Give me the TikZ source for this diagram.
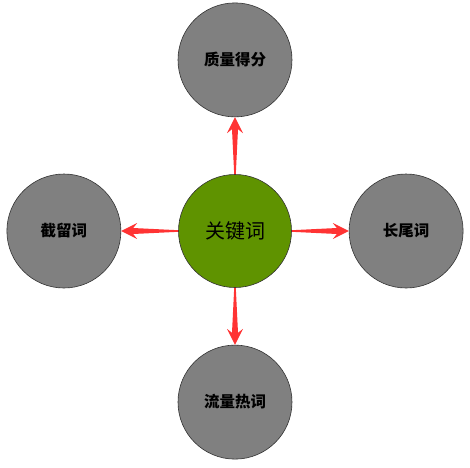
\documentclass[tikz,border=0pt]{standalone}
\usepackage{fontspec}
\newfontfamily\cjk{Noto Sans CJK SC}
\usetikzlibrary{positioning,calc}
\definecolor{kw}{HTML}{5F9300}
\definecolor{leaf}{HTML}{808080}
\definecolor{arrowred}{HTML}{FF3333}
\tikzset{
  hub/.style={circle, draw=black!80, line width=0.6pt, fill=kw, minimum size=113pt,
              inner sep=0pt, font=\cjk\fontsize{20}{24}\selectfont},
  topic/.style={circle, draw=black!80, line width=0.6pt, fill=leaf, minimum size=114pt,
                inner sep=0pt, font=\cjk\bfseries\fontsize{15.5}{18}\selectfont},
  % tapered red arrow, filled
  taper/.style={fill=arrowred, draw=none, to path={
    let \p1=(\tikztostart), \p2=(\tikztotarget), \n1={atan2(\y2-\y1,\x2-\x1)} in
    ($(\p1)+(\n1+90:0.8pt)$) -- ($(\p2)+(\n1+180:12pt)+(\n1+90:3pt)$)
    -- ($(\p2)+(\n1+180:16pt)+(\n1+90:8pt)$) -- (\p2)
    -- ($(\p2)+(\n1+180:16pt)+(\n1-90:8pt)$) -- ($(\p2)+(\n1+180:12pt)+(\n1-90:3pt)$)
    -- ($(\p1)+(\n1-90:0.8pt)$) -- cycle}},
}

\begin{document}
\begin{tikzpicture}[node distance=57pt]
\useasboundingbox (-235pt,-236pt) rectangle (235pt,231pt);
% centre and topics
\node[hub] (key) {关键词};
\node[topic, above=of key] (quality) {质量得分};
\node[topic, left=of key] (intercept) {截留词};
\node[topic, right=of key] (longtail) {长尾词};
\node[topic, below=of key] (traffic) {流量热词};

\path[taper] (key.north) to (quality.south);
\path[taper] (key.west) to (intercept.east);
\path[taper] (key.east) to (longtail.west);
\path[taper] (key.south) to (traffic.north);
\end{tikzpicture}
\end{document}
